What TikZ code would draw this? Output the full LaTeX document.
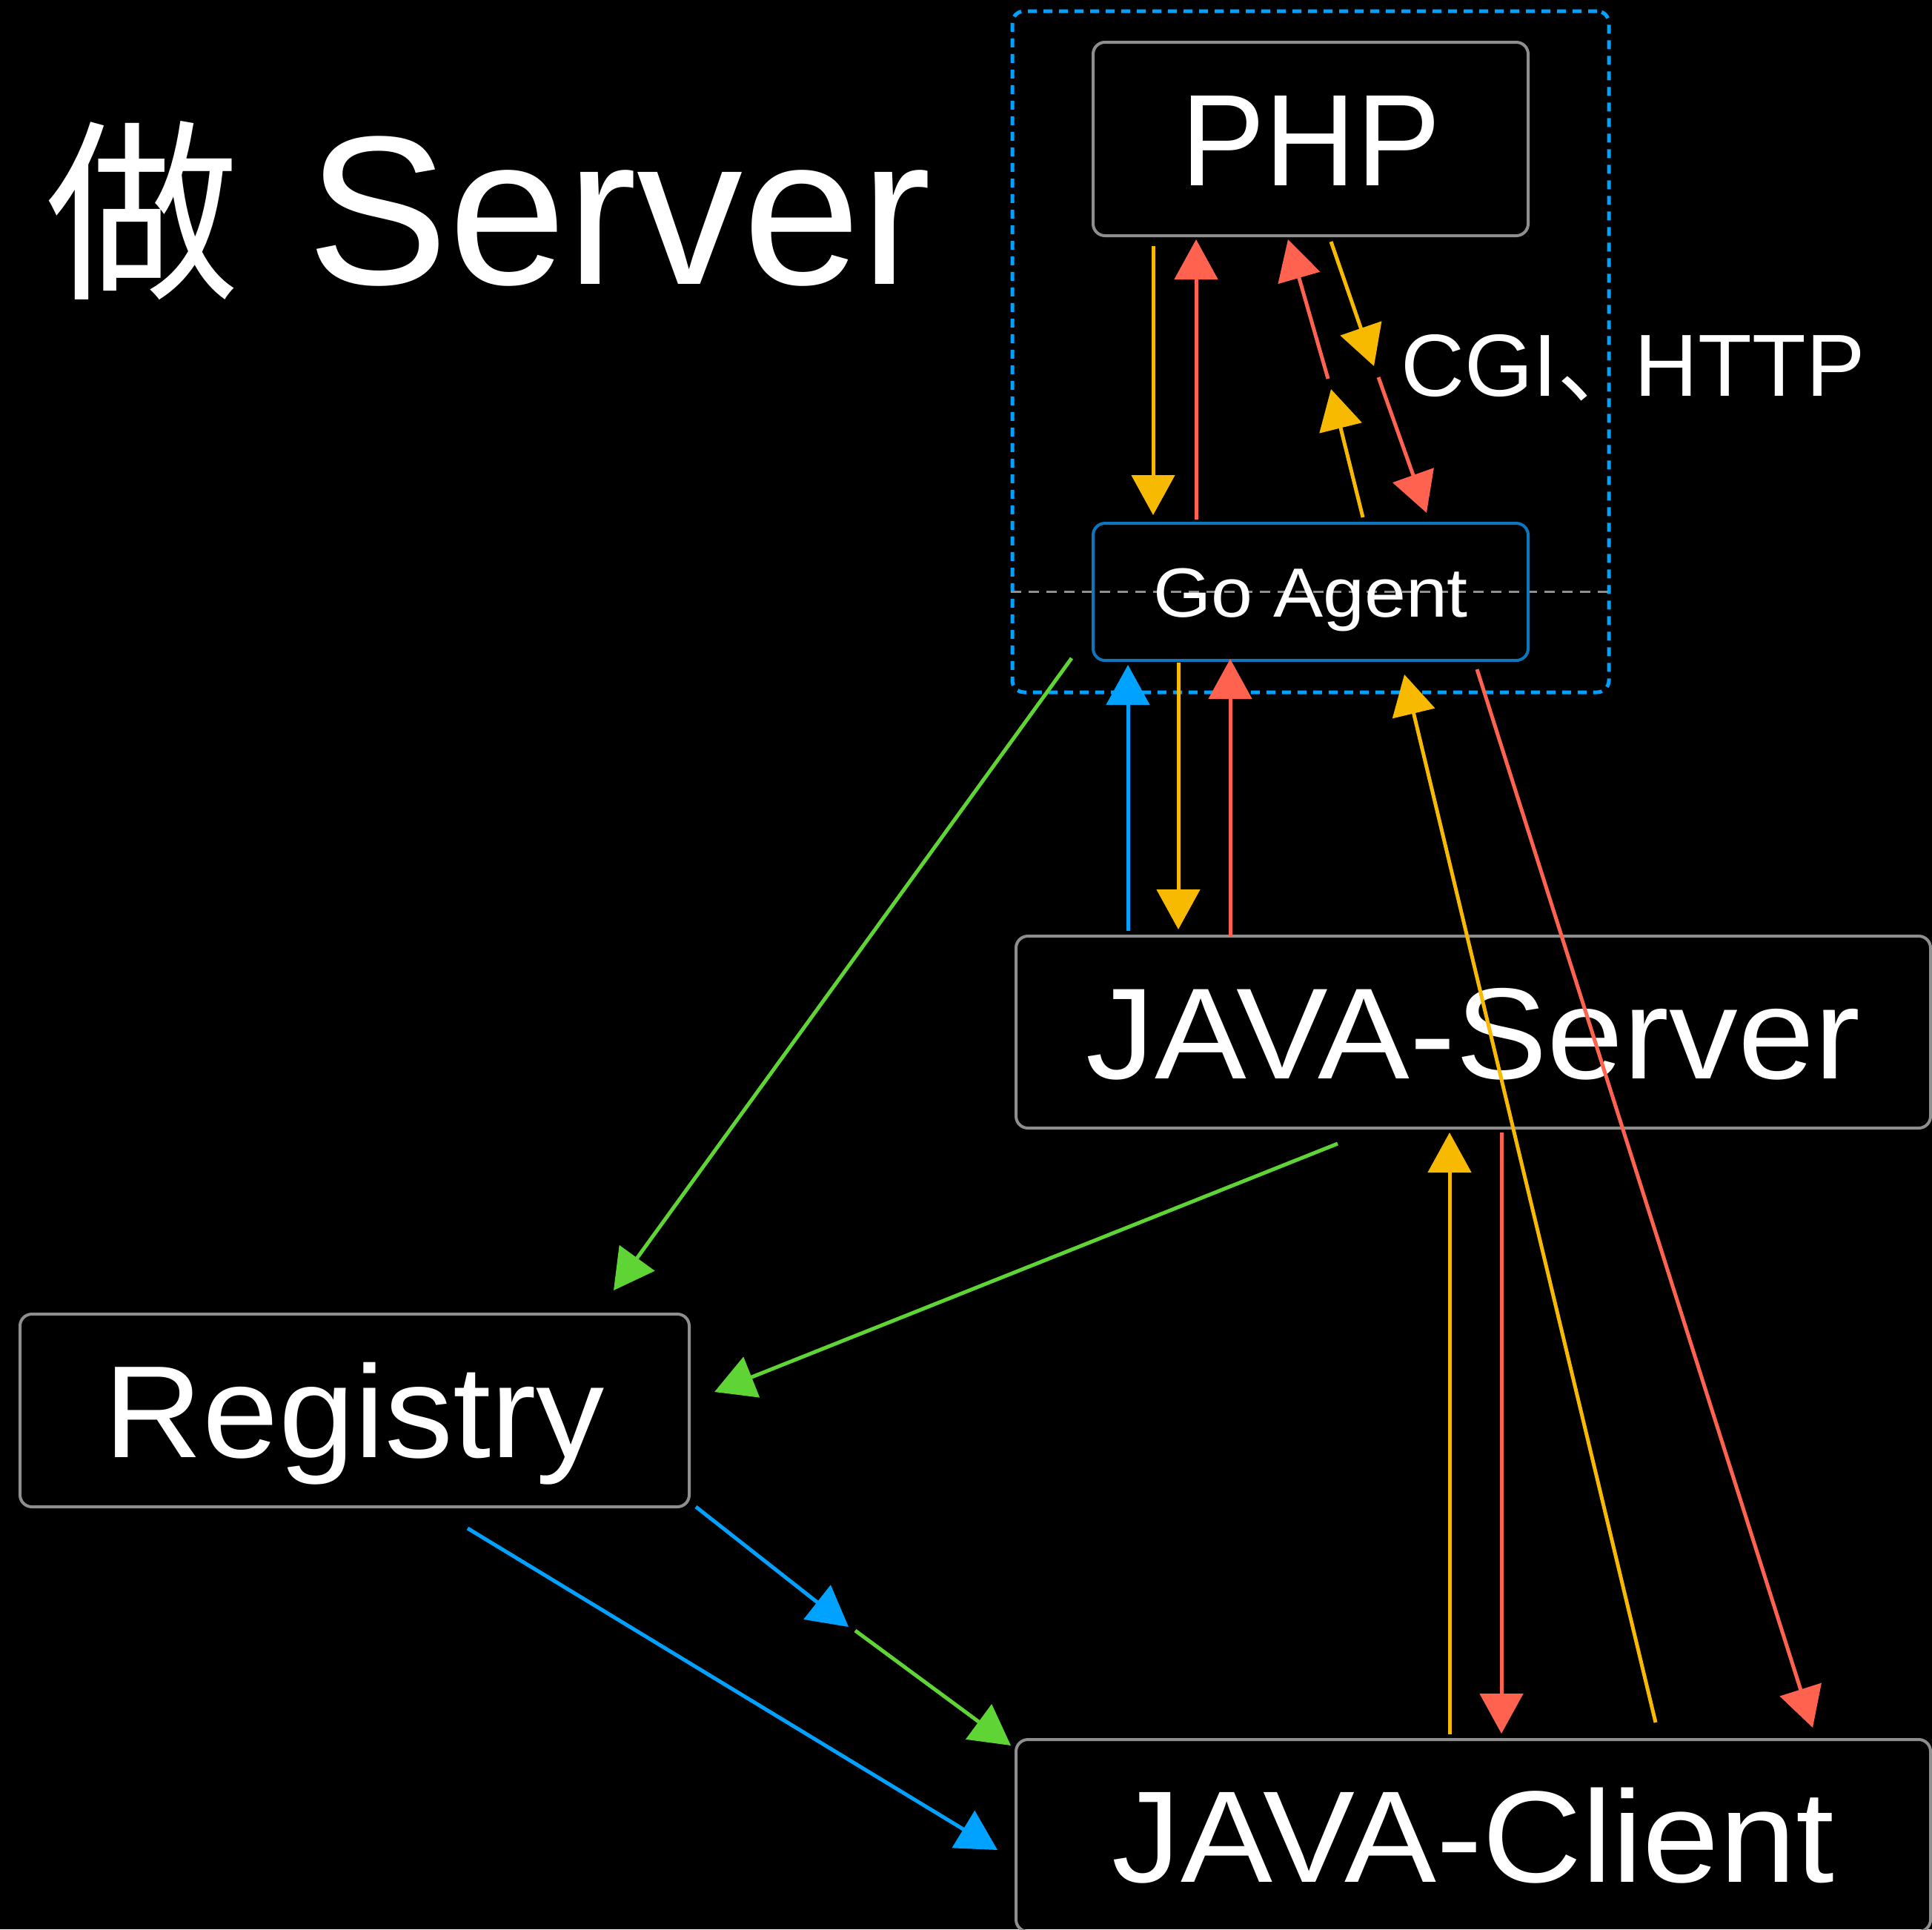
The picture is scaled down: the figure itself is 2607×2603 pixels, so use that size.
\documentclass[tikz,border=0pt]{standalone}
\usepackage{fontspec}
\setmainfont{Liberation Sans}
\newfontfamily\cjk{Noto Sans CJK SC}
\usetikzlibrary{arrows.meta}
\definecolor{cyel}{HTML}{F7BA00}
\definecolor{cred}{HTML}{FF624E}
\definecolor{cblu}{HTML}{00A2FF}
\definecolor{cgrn}{HTML}{5FD535}
\definecolor{cbox}{HTML}{8E8E8E}
\definecolor{cagent}{HTML}{0D76BD}
\tikzset{
  box/.style={draw=cbox, line width=4pt, rounded corners=16pt, text=white,
    inner sep=0pt, text depth=0pt},
  flow/.style={line width=5pt, -{Triangle[width=58pt,length=54pt]}},
  yel/.style={flow, draw=cyel, fill=cyel},
  rd/.style={flow, draw=cred, fill=cred},
  bl/.style={flow, draw=cblu, fill=cblu},
  gr/.style={flow, draw=cgrn, fill=cgrn},
}
\begin{document}
\begin{tikzpicture}[x=1pt, y=-1pt]
\useasboundingbox (0,0) rectangle (2607,2603);
\fill[black] (0,0) rectangle (2607,2603);

% heading
\node[anchor=base west, inner sep=0pt, text=white,
  font=\fontsize{286}{300}\selectfont] (title) at (61,383)
  {{\cjk\fontsize{262}{300}\selectfont 做}\ \kern12pt Server};

% dotted group around PHP and the agent
\node[draw=cblu, line width=5pt, dash pattern=on 12pt off 9pt,
  rounded corners=16pt, minimum width=805pt, minimum height=919pt,
  inner sep=0pt] (cluster) at (1768.5,474.5) {};

% gray boundary through the agent
\draw[cbox, line width=2.5pt, dash pattern=on 14pt off 10pt]
  (cluster.west |- 0,798.5) -- (cluster.east |- 0,798.5);

% boxes
\node[box, minimum width=587pt, minimum height=261pt, text height=126pt,
  font=\fontsize{176}{200}\selectfont] (php) at (1768.5,187.5)
  {\scalebox{0.97}[1]{PHP}};
\node[box, draw=cagent, minimum width=587pt, minimum height=185pt,
  text height=67pt, font=\fontsize{94}{110}\selectfont] (agent)
  at (1768.5,798.5) {\scalebox{1.07}[1]{Go Agent}};
\node[box, minimum width=1234pt, minimum height=259pt, text height=125pt,
  font=\fontsize{175}{200}\selectfont] (jserver) at (1988,1392.5)
  {\scalebox{1.06}[1]{JAVA-Server}};
\node[box, minimum width=903pt, minimum height=260pt, text height=127pt,
  font=\fontsize{177}{200}\selectfont] (registry) at (478.5,1903)
  {\scalebox{1.04}[1]{Registry}};
\node[box, minimum width=1234pt, minimum height=259pt, text height=126pt,
  font=\fontsize{176}{200}\selectfont] (jclient) at (1988,2476.5)
  {\scalebox{1.056}[1]{JAVA-Client}};

% protocol label
\node[anchor=base west, inner sep=0pt, text=white,
  font=\fontsize{119}{130}\selectfont] (cgi) at (1890,534)
  {CGI\makebox[104pt][l]{\cjk 、}HTTP};

% relay points between the two halves of the split links
\coordinate (m1) at (1854,494);
\coordinate (m2) at (1860,509);
\coordinate (m3) at (1796,525);
\coordinate (m4) at (1792,511);
\coordinate (m5) at (1145,2195);
\coordinate (m6) at (1154,2200);

% PHP <-> agent
\draw[yel] ([shift={(83,12)}]php.south west) -- ([shift={(83,-9)}]agent.north west);
\draw[rd]  ([shift={(141,-3)}]agent.north west) -- ([shift={(141,3)}]php.south west);
\draw[yel] ([shift={(323,6)}]php.south west) -- (m1);
\draw[rd]  (m2) -- ([shift={(452,-12)}]agent.north west);
\draw[yel] ([shift={(366,-6)}]agent.north west) -- (m3);
\draw[rd]  (m4) -- ([shift={(265,3)}]php.south west);

% agent <-> JAVA-Server
\draw[bl]  ([shift={(153,-5)}]jserver.north west) -- ([shift={(49,4)}]agent.south west);
\draw[yel] ([shift={(117,1)}]agent.south west) -- ([shift={(221,-7)}]jserver.north west);
\draw[rd]  ([shift={(291,3)}]jserver.north west) -- ([shift={(187,-4)}]agent.south west);

% agent <-> JAVA-Client
\draw[yel] ([shift={(865,-21)}]jclient.north west) -- ([shift={(-169,17)}]agent.south east);
\draw[rd]  ([shift={(-71,10)}]agent.south east) -- ([shift={(1077,-14)}]jclient.north west);

% JAVA-Server <-> JAVA-Client
\draw[yel] ([shift={(587,-5)}]jclient.north west) -- ([shift={(587,4)}]jserver.south west);
\draw[rd]  ([shift={(657,4)}]jserver.south west) -- ([shift={(657,-6)}]jclient.north west);

% registration
\draw[gr]  ([shift={(-27,-5)}]agent.south west) -- ([shift={(-104,-30)}]registry.north east);
\draw[gr]  ([shift={(436,19)}]jserver.south west) -- ([shift={(32,107)}]registry.north east);

% discovery
\draw[bl]  ([shift={(7,-2)}]registry.south east) -- (m5);
\draw[gr]  (m6) -- ([shift={(-5,10)}]jclient.north west);
\draw[bl]  ([shift={(152.5,27)}]registry.south) -- ([shift={(-23,151)}]jclient.north west);
\end{tikzpicture}
\end{document}
